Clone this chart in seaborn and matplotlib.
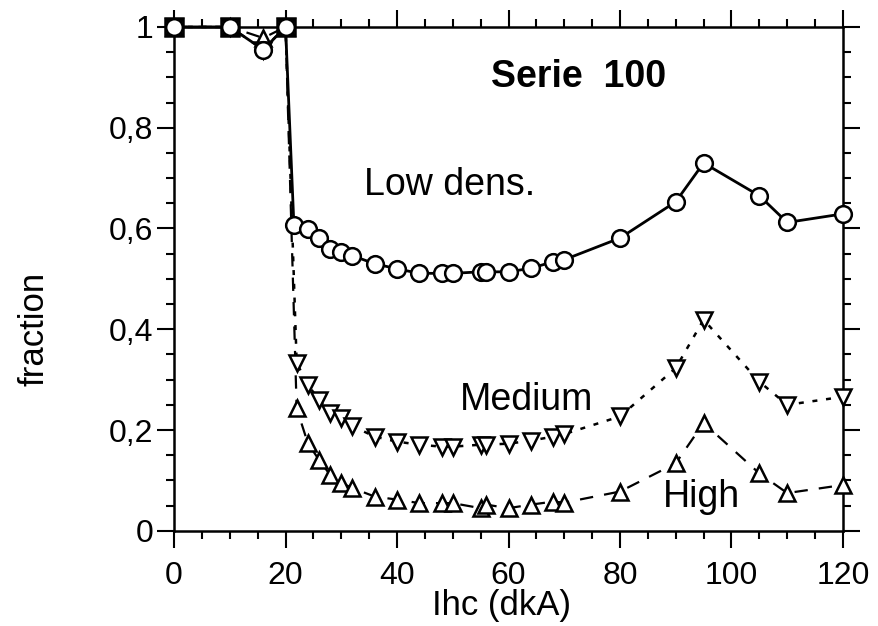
import numpy as np
import pandas as pd
import seaborn as sns
from matplotlib import pyplot as plt
from matplotlib.ticker import MultipleLocator

# values
low_x = [0, 10, 16, 20, 21.5, 24, 26, 28, 30, 32, 36, 40, 44, 48, 50, 55, 56, 60, 64, 68, 70, 80, 90, 95, 105, 110, 120]
low_y = [1, 1, 0.955, 1, 0.607, 0.599, 0.581, 0.559, 0.554, 0.546, 0.530, 0.520, 0.511, 0.511, 0.511,
         0.514, 0.514, 0.514, 0.521, 0.534, 0.538, 0.581, 0.653, 0.730, 0.665, 0.612, 0.629]

med_x = [0, 10, 16, 20, 22, 24, 26, 28, 30, 32, 36, 40, 44, 48, 50, 55, 56, 60, 64, 68, 70, 80, 90, 95, 105, 110, 120]
med_y = [1, 1, 0.955, 1, 0.333, 0.290, 0.260, 0.233, 0.224, 0.208, 0.187, 0.177, 0.171, 0.167, 0.167,
         0.171, 0.171, 0.173, 0.179, 0.187, 0.192, 0.227, 0.323, 0.419, 0.296, 0.250, 0.266]

high_x = [0, 10, 16, 20, 22, 24, 26, 28, 30, 32, 36, 40, 44, 48, 50, 55, 56, 60, 64, 68, 70, 80, 90, 95, 105, 110, 120]
high_y = [1, 1, 0.978, 1, 0.243, 0.174, 0.141, 0.111, 0.095, 0.085, 0.068, 0.062, 0.055, 0.055, 0.055,
          0.045, 0.052, 0.045, 0.052, 0.058, 0.056, 0.078, 0.134, 0.214, 0.114, 0.075, 0.091]

full_x = [0, 10, 20]
full_y = [1, 1, 1]

ytick_vals = [0, 0.2, 0.4, 0.6, 0.8, 1]
ytick_labels = ["0", "0,2", "0,4", "0,6", "0,8", "1"]
xtick_vals = [0, 20, 40, 60, 80, 100, 120]

sns.set_style("ticks")
plt.rcParams['font.family'] = ['Liberation Sans', 'DejaVu Sans']
plt.rcParams['text.color'] = 'black'
plt.rcParams['axes.labelcolor'] = 'black'

fig = plt.figure(figsize=(8.79, 6.26), dpi=100)
ax = fig.add_axes([0.198, 0.152, 0.761, 0.805])

common = dict(color='black', markerfacecolor='white', markeredgecolor='black',
              markeredgewidth=1.8, clip_on=False, ax=ax, legend=False)

sns.lineplot(x=full_x, y=full_y, marker='s', markersize=13, linewidth=0,
             color='black', markerfacecolor='#9a9a9a', markeredgecolor='black',
             markeredgewidth=1.8, clip_on=False, ax=ax, legend=False, zorder=3)
sns.lineplot(x=high_x, y=high_y, marker='^', markersize=12, linewidth=1.6,
             dashes=(6, 5), zorder=4, **common)
sns.lineplot(x=med_x, y=med_y, marker='v', markersize=12, linewidth=1.8,
             dashes=(2, 3.5), zorder=4, **common)
sns.lineplot(x=low_x, y=low_y, marker='o', markersize=12, linewidth=2.0,
             zorder=5, **common)

ax.set_xlim(0, 120)
ax.set_ylim(0, 1)
ax.set_xticks(xtick_vals)
ax.set_yticks(ytick_vals)
ax.set_yticklabels(ytick_labels)
ax.xaxis.set_minor_locator(MultipleLocator(5))
ax.yaxis.set_minor_locator(MultipleLocator(0.05))
ax.tick_params(which='both', direction='out', top=True, right=True, width=1.5,
               labelsize=23, color='black', labelcolor='black')
ax.tick_params(which='major', length=12)
ax.tick_params(which='minor', length=6)
ax.tick_params(axis='x', which='major', pad=10)
ax.tick_params(axis='y', which='major', pad=3)
for s in ax.spines.values():
    s.set_visible(True)
    s.set_linewidth(1.8)
    s.set_color('black')

ax.set_xlabel("Ihc (dkA)", fontsize=25)
ax.xaxis.set_label_coords(0.49, -0.115)
ax.set_ylabel("fraction", fontsize=25)
ax.yaxis.set_label_coords(-0.185, 0.40)

ax.text(72.5, 0.90, "Serie  100", fontsize=27, fontweight='bold', ha='center', va='center')
ax.text(49.5, 0.687, "Low dens.", fontsize=27, ha='center', va='center')
ax.text(63.2, 0.26, "Medium", fontsize=27, ha='center', va='center')
ax.text(94.6, 0.067, "High", fontsize=27, ha='center', va='center')

fig.savefig("out.png", dpi=100)
